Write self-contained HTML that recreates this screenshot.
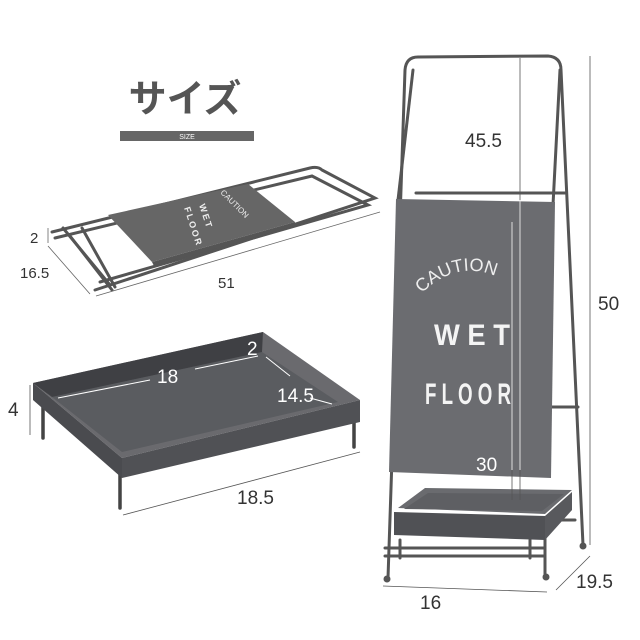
<!DOCTYPE html>
<html><head><meta charset="utf-8"><style>
html,body{margin:0;padding:0;background:#fff;}
svg{display:block;}
text{font-family:"Liberation Sans","Noto Sans CJK JP",sans-serif;}
</style></head><body>
<svg width="640" height="640" viewBox="0 0 640 640" xmlns="http://www.w3.org/2000/svg">
<defs>
<path id="arc" d="M420,295 Q470,245 528,298"/>
</defs>
<rect width="640" height="640" fill="#fff"/>
<!-- title -->
<text x="185" y="112" font-size="38" font-weight="bold" fill="#555" text-anchor="middle" font-family="Noto Sans CJK JP, sans-serif">サイズ</text>
<rect x="120" y="131" width="134" height="10" fill="#666"/>
<text x="187" y="139" font-size="7" fill="#fff" text-anchor="middle">SIZE</text>

<!-- folded frame -->
<g stroke="#555" stroke-width="3" fill="none" stroke-linecap="round">
<path d="M52,232 L310,168 Q318,166 322,170 L375,198 L95,290"/>
<path d="M55,238 L312,176 L368,205 L100,282"/>
<line x1="63" y1="228" x2="110" y2="285"/>
<line x1="70" y1="236" x2="112" y2="290"/>
<line x1="82" y1="228" x2="115" y2="287"/>
</g>
<polygon points="108,215 248,184 295,222 152,262" fill="#666"/>
<polygon points="152,262 295,222 295,226 154,266" fill="#555"/>
<text x="0" y="0" font-size="9" fill="#eee" font-weight="bold" letter-spacing="2" transform="translate(199,205) rotate(72)">WET</text>
<text x="0" y="0" font-size="9" fill="#eee" font-weight="bold" letter-spacing="2" transform="translate(184,208) rotate(72)">FLOOR</text>
<text x="0" y="0" font-size="8" fill="#eee" font-family="Liberation Serif,serif" transform="translate(220,193) rotate(45)">CAUTION</text>
<g stroke="#666" stroke-width="0.8" fill="none">
<line x1="48" y1="228" x2="48" y2="243"/>
<line x1="48" y1="246" x2="90" y2="294"/>
<line x1="96" y1="296" x2="380" y2="212"/>
</g>
<text x="30" y="243" font-size="15" fill="#333">2</text>
<text x="20" y="278" font-size="15" fill="#333">16.5</text>
<text x="218" y="288" font-size="15" fill="#333">51</text>

<!-- tray -->
<g stroke="#444" stroke-width="3.5" stroke-linecap="round">
<line x1="43" y1="405" x2="43" y2="438"/>
<line x1="120" y1="470" x2="120" y2="508"/>
<line x1="354" y1="415" x2="354" y2="447"/>
</g>
<polygon points="33,383 263,332 360,400 122,458" fill="#6a6a6e"/>
<polygon points="52,397 262,352 338,402 122,452" fill="#5a5c60"/>
<polygon points="33,383 263,332 262,352 52,397" fill="#3f4044"/>
<polygon points="33,383 122,458 122,478 33,400" fill="#4a4b4f"/>
<polygon points="122,458 360,400 360,422 122,478" fill="#505155"/>
<g stroke="#fff" stroke-width="1" fill="#fff">
<line x1="58" y1="398" x2="150" y2="380"/>
<line x1="195" y1="369" x2="258" y2="356"/>
<line x1="266" y1="357" x2="290" y2="376"/>
<line x1="310" y1="398" x2="332" y2="404"/>
</g>
<text x="157" y="383" font-size="19" fill="#fff">18</text>
<text x="247" y="355" font-size="19" fill="#fff">2</text>
<text x="277" y="402" font-size="19" fill="#fff">14.5</text>
<g stroke="#555" stroke-width="0.8">
<line x1="30" y1="385" x2="30" y2="435"/>
<line x1="123" y1="515" x2="360" y2="452"/>
</g>
<text x="8" y="416" font-size="19" fill="#333">4</text>
<text x="237" y="504" font-size="19" fill="#333">18.5</text>

<!-- stand -->
<g stroke="#555" stroke-width="3" fill="none" stroke-linecap="round">
<path d="M388,578 L405,70 Q406,57 418,57 L548,56 Q561,57 561,70 L583,545"/>
<path d="M398,200 L413,70"/>
<path d="M553,205 L560,70"/>
<line x1="416" y1="193" x2="565" y2="193"/>
<line x1="550" y1="407" x2="578" y2="407"/>
<line x1="385" y1="548" x2="545" y2="548"/>
<line x1="385" y1="556" x2="545" y2="556"/>
<line x1="400" y1="540" x2="400" y2="558"/>
<line x1="530" y1="540" x2="530" y2="558"/>
<line x1="545" y1="530" x2="545" y2="575"/>
<line x1="560" y1="520" x2="575" y2="520"/>
</g>
<circle cx="387" cy="579" r="3.5" fill="#555"/>
<circle cx="546" cy="577" r="3.5" fill="#555"/>
<circle cx="583" cy="546" r="3.5" fill="#555"/>
<polygon points="396,199 555,202 551,478 389,472" fill="#6b6c70"/>
<text font-size="18" fill="#eee" font-family="Liberation Serif,serif"><textPath href="#arc" startOffset="2">CAUTION</textPath></text>
<text x="472" y="345" font-size="30" fill="#f4f4f4" font-weight="bold" text-anchor="middle" textLength="76" lengthAdjust="spacingAndGlyphs">W E T</text>
<text x="468" y="404" font-size="30" fill="#f4f4f4" font-weight="bold" text-anchor="middle" textLength="86" lengthAdjust="spacingAndGlyphs">F L O O R</text>
<polygon points="398,508 425,488 572,490 545,514" fill="#6a6b6f"/>
<polygon points="404,509 428,493 564,494 542,511" fill="#5e5f63"/>
<polygon points="394,512 545,516 545,540 394,535" fill="#505155"/>
<polygon points="545,516 572,492 572,510 545,540" fill="#58595d"/>
<g stroke="#555" stroke-width="0.8">
<line x1="520" y1="58" x2="520" y2="500"/>
<line x1="512" y1="222" x2="512" y2="500"/>
</g>
<g stroke="#fff" stroke-width="0.8"><line x1="512" y1="222" x2="512" y2="470"/><line x1="520" y1="200" x2="520" y2="470"/></g>
<g stroke="#555" stroke-width="0.8">
<line x1="590" y1="56" x2="590" y2="545"/>
<line x1="556" y1="590" x2="590" y2="556"/>
<line x1="383" y1="586" x2="547" y2="592"/>
</g>
<text x="465" y="147" font-size="19" fill="#333">45.5</text>
<text x="476" y="471" font-size="19" fill="#fff">30</text>
<text x="598" y="310" font-size="19" fill="#333">50</text>
<text x="576" y="588" font-size="19" fill="#333">19.5</text>
<text x="420" y="609" font-size="19" fill="#333">16</text>
</svg>
</body></html>
